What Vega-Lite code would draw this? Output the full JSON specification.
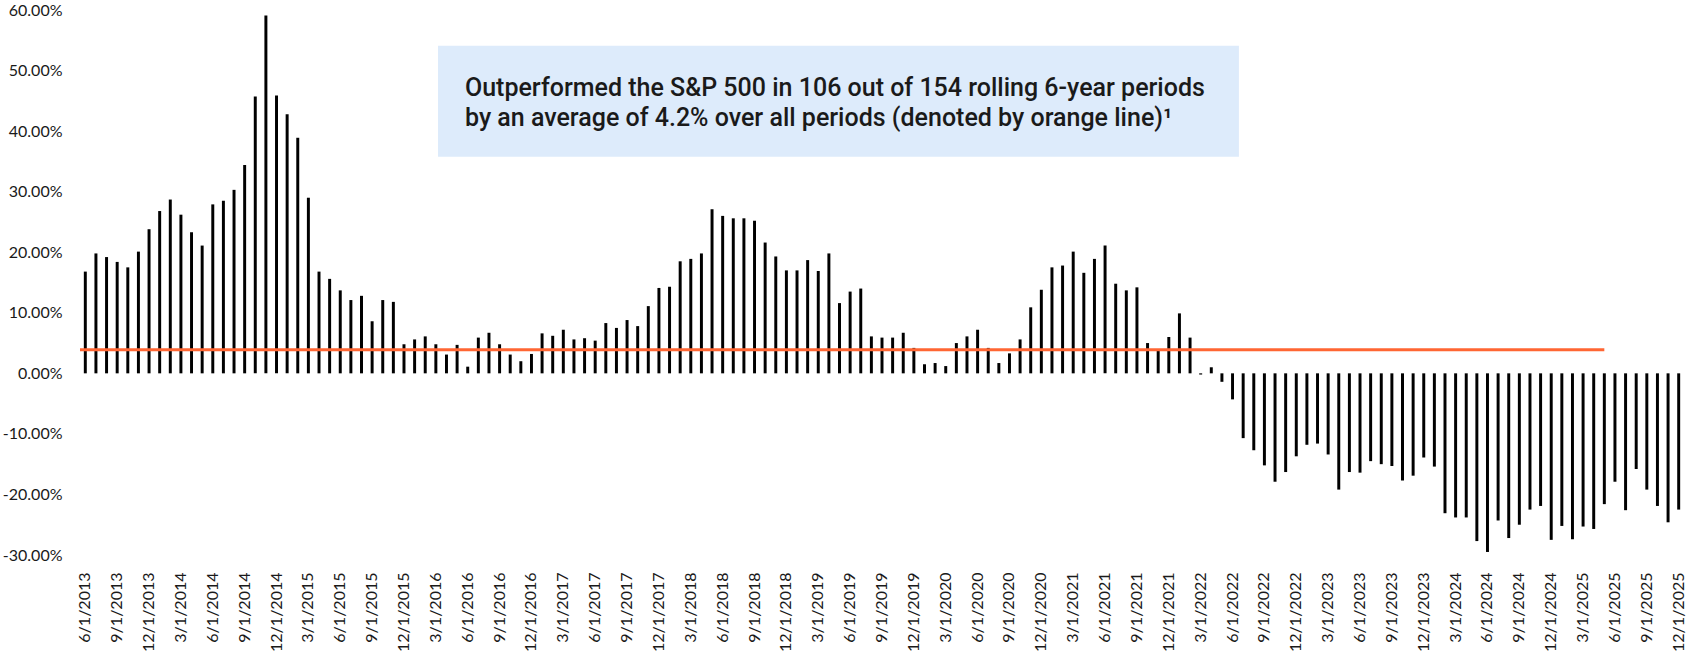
{
  "$schema": "https://vega.github.io/schema/vega-lite/v6.json",
  "width": 1604,
  "height": 545,
  "autosize": {"type": "none"},
  "padding": {"left": 80, "top": 10, "right": 7, "bottom": 97},
  "background": "#ffffff",
  "config": {"view": {"stroke": null}, "font": "Lato"},
  "data": {"values": [
    {"date": "6/1/2013", "excess": 16.8}, {"date": "7/1/2013", "excess": 19.8}, {"date": "8/1/2013", "excess": 19.2}, {"date": "9/1/2013", "excess": 18.4}, {"date": "10/1/2013", "excess": 17.5}, {"date": "11/1/2013", "excess": 20.1}, {"date": "12/1/2013", "excess": 23.8},
    {"date": "1/1/2014", "excess": 26.8}, {"date": "2/1/2014", "excess": 28.7}, {"date": "3/1/2014", "excess": 26.2}, {"date": "4/1/2014", "excess": 23.3}, {"date": "5/1/2014", "excess": 21.1}, {"date": "6/1/2014", "excess": 27.9}, {"date": "7/1/2014", "excess": 28.5}, {"date": "8/1/2014", "excess": 30.3}, {"date": "9/1/2014", "excess": 34.4}, {"date": "10/1/2014", "excess": 45.7}, {"date": "11/1/2014", "excess": 59.1}, {"date": "12/1/2014", "excess": 45.9},
    {"date": "1/1/2015", "excess": 42.8}, {"date": "2/1/2015", "excess": 38.9}, {"date": "3/1/2015", "excess": 29.0}, {"date": "4/1/2015", "excess": 16.8}, {"date": "5/1/2015", "excess": 15.6}, {"date": "6/1/2015", "excess": 13.7}, {"date": "7/1/2015", "excess": 12.1}, {"date": "8/1/2015", "excess": 12.8}, {"date": "9/1/2015", "excess": 8.6}, {"date": "10/1/2015", "excess": 12.1}, {"date": "11/1/2015", "excess": 11.8}, {"date": "12/1/2015", "excess": 4.8},
    {"date": "1/1/2016", "excess": 5.6}, {"date": "2/1/2016", "excess": 6.1}, {"date": "3/1/2016", "excess": 4.8}, {"date": "4/1/2016", "excess": 3.1}, {"date": "5/1/2016", "excess": 4.7}, {"date": "6/1/2016", "excess": 1.1}, {"date": "7/1/2016", "excess": 5.9}, {"date": "8/1/2016", "excess": 6.7}, {"date": "9/1/2016", "excess": 4.8}, {"date": "10/1/2016", "excess": 3.1}, {"date": "11/1/2016", "excess": 2.0}, {"date": "12/1/2016", "excess": 3.2},
    {"date": "1/1/2017", "excess": 6.6}, {"date": "2/1/2017", "excess": 6.2}, {"date": "3/1/2017", "excess": 7.2}, {"date": "4/1/2017", "excess": 5.6}, {"date": "5/1/2017", "excess": 5.8}, {"date": "6/1/2017", "excess": 5.4}, {"date": "7/1/2017", "excess": 8.3}, {"date": "8/1/2017", "excess": 7.5}, {"date": "9/1/2017", "excess": 8.8}, {"date": "10/1/2017", "excess": 7.8}, {"date": "11/1/2017", "excess": 11.1}, {"date": "12/1/2017", "excess": 14.1},
    {"date": "1/1/2018", "excess": 14.3}, {"date": "2/1/2018", "excess": 18.5}, {"date": "3/1/2018", "excess": 18.9}, {"date": "4/1/2018", "excess": 19.8}, {"date": "5/1/2018", "excess": 27.1}, {"date": "6/1/2018", "excess": 26.0}, {"date": "7/1/2018", "excess": 25.6}, {"date": "8/1/2018", "excess": 25.6}, {"date": "9/1/2018", "excess": 25.2}, {"date": "10/1/2018", "excess": 21.6}, {"date": "11/1/2018", "excess": 19.3}, {"date": "12/1/2018", "excess": 17.0},
    {"date": "1/1/2019", "excess": 17.0}, {"date": "2/1/2019", "excess": 18.7}, {"date": "3/1/2019", "excess": 16.9}, {"date": "4/1/2019", "excess": 19.8}, {"date": "5/1/2019", "excess": 11.6}, {"date": "6/1/2019", "excess": 13.5}, {"date": "7/1/2019", "excess": 14.0}, {"date": "8/1/2019", "excess": 6.1}, {"date": "9/1/2019", "excess": 5.9}, {"date": "10/1/2019", "excess": 5.9}, {"date": "11/1/2019", "excess": 6.7}, {"date": "12/1/2019", "excess": 4.2},
    {"date": "1/1/2020", "excess": 1.5}, {"date": "2/1/2020", "excess": 1.7}, {"date": "3/1/2020", "excess": 1.2}, {"date": "4/1/2020", "excess": 5.0}, {"date": "5/1/2020", "excess": 6.1}, {"date": "6/1/2020", "excess": 7.2}, {"date": "7/1/2020", "excess": 4.2}, {"date": "8/1/2020", "excess": 1.7}, {"date": "9/1/2020", "excess": 3.3}, {"date": "10/1/2020", "excess": 5.6}, {"date": "11/1/2020", "excess": 10.9}, {"date": "12/1/2020", "excess": 13.8},
    {"date": "1/1/2021", "excess": 17.5}, {"date": "2/1/2021", "excess": 17.8}, {"date": "3/1/2021", "excess": 20.1}, {"date": "4/1/2021", "excess": 16.6}, {"date": "5/1/2021", "excess": 18.9}, {"date": "6/1/2021", "excess": 21.1}, {"date": "7/1/2021", "excess": 14.8}, {"date": "8/1/2021", "excess": 13.7}, {"date": "9/1/2021", "excess": 14.2}, {"date": "10/1/2021", "excess": 5.0}, {"date": "11/1/2021", "excess": 4.0}, {"date": "12/1/2021", "excess": 6.0},
    {"date": "1/1/2022", "excess": 9.9}, {"date": "2/1/2022", "excess": 5.9}, {"date": "3/1/2022", "excess": -0.2}, {"date": "4/1/2022", "excess": 1.0}, {"date": "5/1/2022", "excess": -1.4}, {"date": "6/1/2022", "excess": -4.3}, {"date": "7/1/2022", "excess": -10.7}, {"date": "8/1/2022", "excess": -12.7}, {"date": "9/1/2022", "excess": -15.2}, {"date": "10/1/2022", "excess": -17.9}, {"date": "11/1/2022", "excess": -16.3}, {"date": "12/1/2022", "excess": -13.7},
    {"date": "1/1/2023", "excess": -11.8}, {"date": "2/1/2023", "excess": -11.6}, {"date": "3/1/2023", "excess": -13.4}, {"date": "4/1/2023", "excess": -19.2}, {"date": "5/1/2023", "excess": -16.3}, {"date": "6/1/2023", "excess": -16.4}, {"date": "7/1/2023", "excess": -14.5}, {"date": "8/1/2023", "excess": -15.0}, {"date": "9/1/2023", "excess": -15.3}, {"date": "10/1/2023", "excess": -17.7}, {"date": "11/1/2023", "excess": -16.9}, {"date": "12/1/2023", "excess": -13.9},
    {"date": "1/1/2024", "excess": -15.4}, {"date": "2/1/2024", "excess": -23.1}, {"date": "3/1/2024", "excess": -23.8}, {"date": "4/1/2024", "excess": -23.8}, {"date": "5/1/2024", "excess": -27.7}, {"date": "6/1/2024", "excess": -29.5}, {"date": "7/1/2024", "excess": -24.3}, {"date": "8/1/2024", "excess": -27.2}, {"date": "9/1/2024", "excess": -25.0}, {"date": "10/1/2024", "excess": -22.5}, {"date": "11/1/2024", "excess": -21.9}, {"date": "12/1/2024", "excess": -27.5},
    {"date": "1/1/2025", "excess": -25.2}, {"date": "2/1/2025", "excess": -27.4}, {"date": "3/1/2025", "excess": -25.3}, {"date": "4/1/2025", "excess": -25.7}, {"date": "5/1/2025", "excess": -21.6}, {"date": "6/1/2025", "excess": -17.9}, {"date": "7/1/2025", "excess": -22.6}, {"date": "8/1/2025", "excess": -15.8}, {"date": "9/1/2025", "excess": -19.2}, {"date": "10/1/2025", "excess": -21.9}, {"date": "11/1/2025", "excess": -24.6}, {"date": "12/1/2025", "excess": -22.5}
  ]},
  "encoding": {
    "x": {
      "field": "date", "type": "ordinal", "sort": null,
      "scale": {
        "paddingInner": 0, "paddingOuter": 0,
        "domain": ["6/1/2013","7/1/2013","8/1/2013","9/1/2013","10/1/2013","11/1/2013","12/1/2013","1/1/2014","2/1/2014","3/1/2014","4/1/2014","5/1/2014","6/1/2014","7/1/2014","8/1/2014","9/1/2014","10/1/2014","11/1/2014","12/1/2014","1/1/2015","2/1/2015","3/1/2015","4/1/2015","5/1/2015","6/1/2015","7/1/2015","8/1/2015","9/1/2015","10/1/2015","11/1/2015","12/1/2015","1/1/2016","2/1/2016","3/1/2016","4/1/2016","5/1/2016","6/1/2016","7/1/2016","8/1/2016","9/1/2016","10/1/2016","11/1/2016","12/1/2016","1/1/2017","2/1/2017","3/1/2017","4/1/2017","5/1/2017","6/1/2017","7/1/2017","8/1/2017","9/1/2017","10/1/2017","11/1/2017","12/1/2017","1/1/2018","2/1/2018","3/1/2018","4/1/2018","5/1/2018","6/1/2018","7/1/2018","8/1/2018","9/1/2018","10/1/2018","11/1/2018","12/1/2018","1/1/2019","2/1/2019","3/1/2019","4/1/2019","5/1/2019","6/1/2019","7/1/2019","8/1/2019","9/1/2019","10/1/2019","11/1/2019","12/1/2019","1/1/2020","2/1/2020","3/1/2020","4/1/2020","5/1/2020","6/1/2020","7/1/2020","8/1/2020","9/1/2020","10/1/2020","11/1/2020","12/1/2020","1/1/2021","2/1/2021","3/1/2021","4/1/2021","5/1/2021","6/1/2021","7/1/2021","8/1/2021","9/1/2021","10/1/2021","11/1/2021","12/1/2021","1/1/2022","2/1/2022","3/1/2022","4/1/2022","5/1/2022","6/1/2022","7/1/2022","8/1/2022","9/1/2022","10/1/2022","11/1/2022","12/1/2022","1/1/2023","2/1/2023","3/1/2023","4/1/2023","5/1/2023","6/1/2023","7/1/2023","8/1/2023","9/1/2023","10/1/2023","11/1/2023","12/1/2023","1/1/2024","2/1/2024","3/1/2024","4/1/2024","5/1/2024","6/1/2024","7/1/2024","8/1/2024","9/1/2024","10/1/2024","11/1/2024","12/1/2024","1/1/2025","2/1/2025","3/1/2025","4/1/2025","5/1/2025","6/1/2025","7/1/2025","8/1/2025","9/1/2025","10/1/2025","11/1/2025","12/1/2025"]
      },
      "axis": {
        "title": null, "domain": false, "ticks": false, "tickSize": 0,
        "labelAngle": -90, "labelAlign": "right", "labelBaseline": "middle",
        "labelPadding": 17, "labelFontSize": 16, "labelColor": "#1a1a1a", "labelFont": "Lato",
        "labelOverlap": false,
        "values": ["6/1/2013","9/1/2013","12/1/2013","3/1/2014","6/1/2014","9/1/2014","12/1/2014","3/1/2015","6/1/2015","9/1/2015","12/1/2015","3/1/2016","6/1/2016","9/1/2016","12/1/2016","3/1/2017","6/1/2017","9/1/2017","12/1/2017","3/1/2018","6/1/2018","9/1/2018","12/1/2018","3/1/2019","6/1/2019","9/1/2019","12/1/2019","3/1/2020","6/1/2020","9/1/2020","12/1/2020","3/1/2021","6/1/2021","9/1/2021","12/1/2021","3/1/2022","6/1/2022","9/1/2022","12/1/2022","3/1/2023","6/1/2023","9/1/2023","12/1/2023","3/1/2024","6/1/2024","9/1/2024","12/1/2024","3/1/2025","6/1/2025","9/1/2025","12/1/2025"]
      }
    }
  },
  "layer": [
    {
      "data": {"values": [{}]},
      "mark": {"type": "rect", "color": "#DDEBFB"},
      "encoding": {
        "x": {"datum": "3/1/2016", "bandPosition": 0.7},
        "x2": {"datum": "7/1/2022", "bandPosition": 0.1},
        "y": {"datum": 54.1},
        "y2": {"datum": 35.75}
      }
    },
    {
      "data": {"values": [{}]},
      "mark": {"type": "text", "text": "Outperformed the S&P 500 in 106 out of 154 rolling 6-year periods", "font": "Roboto", "fontWeight": 500, "fontSize": 25, "color": "#1a1a1a", "align": "left", "baseline": "alphabetic"},
      "encoding": {
        "x": {"datum": "6/1/2016", "bandPosition": 0.24},
        "y": {"datum": 45.72}
      }
    },
    {
      "data": {"values": [{}]},
      "mark": {"type": "text", "text": "by an average of 4.2% over all periods (denoted by orange line)¹", "font": "Roboto", "fontWeight": 500, "fontSize": 25, "color": "#1a1a1a", "align": "left", "baseline": "alphabetic"},
      "encoding": {
        "x": {"datum": "6/1/2016", "bandPosition": 0.24},
        "y": {"datum": 40.9}
      }
    },
    {
      "data": {"values": [{}]},
      "mark": {"type": "rule", "color": "#808080", "strokeWidth": 1},
      "encoding": {"y": {"datum": 0}}
    },
    {
      "mark": {"type": "bar", "color": "#000000", "width": {"band": 0.28}},
      "encoding": {
        "y": {
          "field": "excess", "type": "quantitative",
          "scale": {"domain": [-30, 60], "nice": false},
          "axis": {
            "title": null, "domain": false, "ticks": false, "grid": false,
            "values": [-30, -20, -10, 0, 10, 20, 30, 40, 50, 60],
            "labelExpr": "(datum.value < 0 ? '-' : '') + format(abs(datum.value), '.2f') + '%'",
            "labelPadding": 18, "labelFontSize": 16, "labelColor": "#1a1a1a", "labelFont": "Lato"
          }
        }
      }
    },
    {
      "data": {"values": [{}]},
      "mark": {"type": "rule", "color": "#FF6633", "strokeWidth": 3},
      "encoding": {
        "x": {"datum": "6/1/2013", "bandPosition": 0},
        "x2": {"datum": "5/1/2025"},
        "y": {"datum": 3.9}
      }
    }
  ]
}
